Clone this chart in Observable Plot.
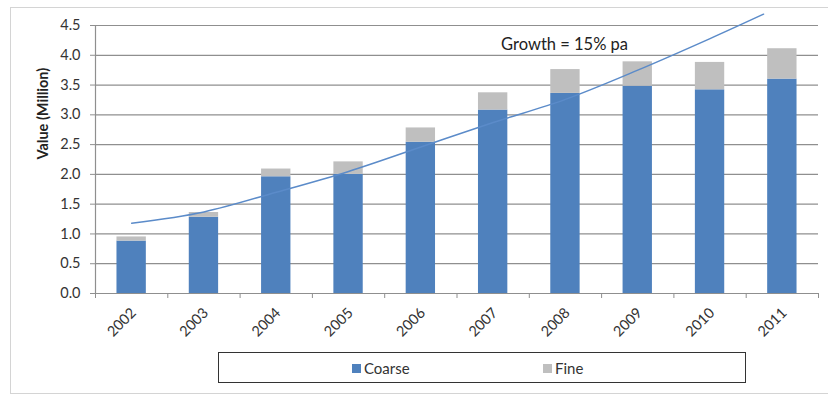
<!DOCTYPE html>
<html><head><meta charset="utf-8">
<script src="https://cdn.jsdelivr.net/npm/d3@7"></script>
<script src="https://cdn.jsdelivr.net/npm/@observablehq/plot@0.6"></script>
<style>
body{margin:0;background:#fff;}
#wrap{position:relative;width:828px;height:396px;overflow:hidden;font-family:Lato,"Open Sans",sans-serif;}
#border{position:absolute;left:10px;top:7px;right:-4px;bottom:2px;border:1.5px solid #d4d4d4;}
#legend{position:absolute;left:218px;top:352px;width:528px;height:31px;border:1.5px solid #333;box-sizing:border-box;font-size:15px;color:#333;}
.item{position:absolute;top:6px;display:flex;align-items:center;}
.sw{width:9px;height:9px;margin-right:3px;}
svg{position:absolute;left:0;top:0;}
</style></head>
<body><div id="wrap"><div id="border"></div><div id="chart"></div>
<div id="legend"><div class="item" style="left:133px"><div class="sw" style="background:#4f81bd"></div>Coarse</div><div class="item" style="left:324px"><div class="sw" style="background:#bfbfbf"></div>Fine</div></div></div>
<script>
const years = [2002,2003,2004,2005,2006,2007,2008,2009,2010,2011];
const coarse = [0.88,1.28,1.96,2.00,2.54,3.08,3.36,3.48,3.42,3.60];
const fine   = [0.07,0.08,0.13,0.21,0.24,0.29,0.40,0.41,0.46,0.51];
// trend line (last point is where the drawn line ends)
const trendX = [2002,2003,2004,2005,2006,2007,2008,2009,2010,2010.74];
const trendY = [1.18,1.37,1.70,2.05,2.46,2.87,3.26,3.75,4.28,4.69];
const yTicks = [0,0.5,1,1.5,2,2.5,3,3.5,4,4.5];
const annotation = "Growth = 15% pa";
const yLabel = "Value (Million)";

const bars = years.map((y,i)=>({year:y, coarse:coarse[i], total:coarse[i]+fine[i]}));
const trend = trendX.map((x,i)=>({x, y:trendY[i]}));
const bounds = years.map(y=>y-0.5).concat([years[years.length-1]+0.5]);
const hw = 0.203;
const grid = "#8f8f8f";

const chart = Plot.plot({
  width: 828, height: 396,
  marginLeft: 95, marginRight: 10, marginTop: 25, marginBottom: 103,
  style: {fontFamily: "Lato, 'Open Sans', sans-serif", background: "transparent", color: "#333"},
  x: {type: "linear", domain: [2001.5, 2011.5]},
  y: {domain: [0, 4.5]},
  marks: [
    Plot.gridY(yTicks.slice(1), {stroke: grid, strokeOpacity: 1, strokeWidth: 1.2}),
    Plot.rectY(bars, {x1: d=>d.year-hw, x2: d=>d.year+hw, y1: 0, y2: "coarse", fill: "#4f81bd"}),
    Plot.rectY(bars, {x1: d=>d.year-hw, x2: d=>d.year+hw, y1: "coarse", y2: "total", fill: "#bfbfbf"}),
    Plot.ruleY([0], {stroke: grid, strokeWidth: 1.2}),
    Plot.ruleX([2001.5], {stroke: grid, strokeWidth: 1.2}),
    Plot.axisY(yTicks, {tickSize: 5, tickFormat: d3.format(".1f"), fontSize: 14.5, tickPadding: 10, stroke: grid, label: null, color: "#333"}),
    Plot.axisX(bounds, {tickSize: 5, tickFormat: () => "", stroke: grid, label: null}),
    Plot.axisX(years, {tickSize: 0, tickRotate: -45, tickFormat: d=>String(d), fontSize: 14.5, tickPadding: 17, dx: 2, label: null, color: "#333"}),
    Plot.line(trend, {x: "x", y: "y", curve: "catmull-rom", stroke: "#5b8bc9", strokeWidth: 1.5}),
    Plot.text([annotation], {x: 2007.11, y: 4.17, text: d=>d, textAnchor: "start", fontSize: 16.5, fill: "#222"}),
    Plot.text([yLabel], {frameAnchor: "left", dx: -52, rotate: -90, text: d=>d, fontSize: 14.5, fontWeight: "bold", fill: "#222"})
  ]
});
document.getElementById("chart").appendChild(chart);
</script></body></html>
